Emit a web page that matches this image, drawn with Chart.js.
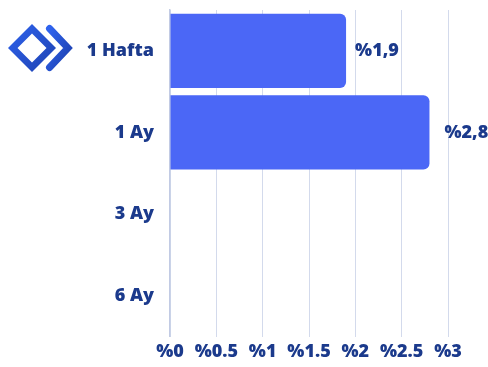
<!DOCTYPE html>
<html>
<head>
<meta charset="utf-8">
<script src="https://cdn.jsdelivr.net/npm/chart.js@4/dist/chart.umd.min.js"></script>
<style>
  html, body { margin: 0; padding: 0; background: #ffffff; }
  #wrap { position: relative; width: 488px; height: 367px; overflow: hidden; }
  #logo { position: absolute; left: 0; top: 0; }
  canvas { position: absolute; left: 0; top: 0; }
</style>
</head>
<body>
<div id="wrap">
  <canvas id="chart" width="488" height="367"></canvas>
  <svg id="logo" width="80" height="90" viewBox="0 0 80 90">
    <defs>
      <linearGradient id="lg" x1="0" y1="0" x2="1" y2="1">
        <stop offset="0" stop-color="#2f63ee"/>
        <stop offset="1" stop-color="#1d41b0"/>
      </linearGradient>
    </defs>
    <path fill="url(#lg)" fill-rule="evenodd"
      d="M32 24 L56 48 L32 72 L8 48 Z M32 33.5 L46.5 48 L32 62.5 L17.5 48 Z"/>
    <polyline points="49.5,28.5 68,48 49.5,67.5" fill="none" stroke="url(#lg)" stroke-width="7" stroke-linejoin="miter" stroke-linecap="round"/>
  </svg>
</div>
<script>
// Return periods and their returns (in %)
const categories = ['1 Hafta', '1 Ay', '3 Ay', '6 Ay'];
const returns = [1.9, 2.8, null, null];
const tickValues = [0, 0.5, 1, 1.5, 2, 2.5, 3];

const navy = '#1b3a8c';
const font = { family: '"Open Sans", sans-serif', size: 18, weight: '800' };

// Writes "%x,y" after the end of each bar
const valueLabels = {
  id: 'valueLabels',
  afterDatasetsDraw(chart, args, opts) {
    const ctx = chart.ctx;
    const meta = chart.getDatasetMeta(0);
    const gaps = opts.gaps || [];
    ctx.save();
    ctx.font = `${font.weight} ${font.size}px ${font.family}`;
    ctx.fillStyle = navy;
    ctx.textAlign = 'left';
    ctx.textBaseline = 'middle';
    meta.data.forEach((bar, i) => {
      const v = returns[i];
      if (v === null || v === undefined) return;
      const gap = gaps[i] !== undefined ? gaps[i] : 9;
      ctx.fillText('%' + String(v).replace('.', ','), bar.x + gap, bar.y);
    });
    ctx.restore();
  }
};

new Chart(document.getElementById('chart'), {
  type: 'bar',
  data: {
    labels: categories,
    datasets: [{
      data: returns,
      backgroundColor: '#4b67f6',
      borderRadius: 6,
      borderSkipped: 'start',
      barPercentage: 0.91,
      categoryPercentage: 1
    }]
  },
  options: {
    indexAxis: 'y',
    responsive: false,
    animation: false,
    layout: { padding: { top: 10, right: 40, bottom: 4, left: 0 } },
    plugins: {
      legend: { display: false },
      tooltip: { enabled: false },
      valueLabels: { gaps: [9, 15] }
    },
    scales: {
      x: {
        min: 0,
        max: 3,
        afterBuildTicks(scale) { scale.ticks = tickValues.map(v => ({ value: v })); },
        afterFit(scale) { scale.height = 26.5; },
        ticks: {
          color: navy,
          font: font,
          padding: 5,
          maxRotation: 0,
          autoSkip: false,
          callback: v => '%' + v
        },
        grid: { color: '#d3daec', lineWidth: 1, drawTicks: false },
        border: { display: false }
      },
      y: {
        afterFit(scale) {
          scale.width = 170;
          scale.paddingTop = 0;
          scale.paddingBottom = 0;
        },
        ticks: { color: navy, font: font, padding: 16 },
        grid: { display: false, drawTicks: false },
        border: { display: true, color: '#c2cbe4', width: 1.5 }
      }
    }
  },
  plugins: [valueLabels]
});
</script>
</body>
</html>
